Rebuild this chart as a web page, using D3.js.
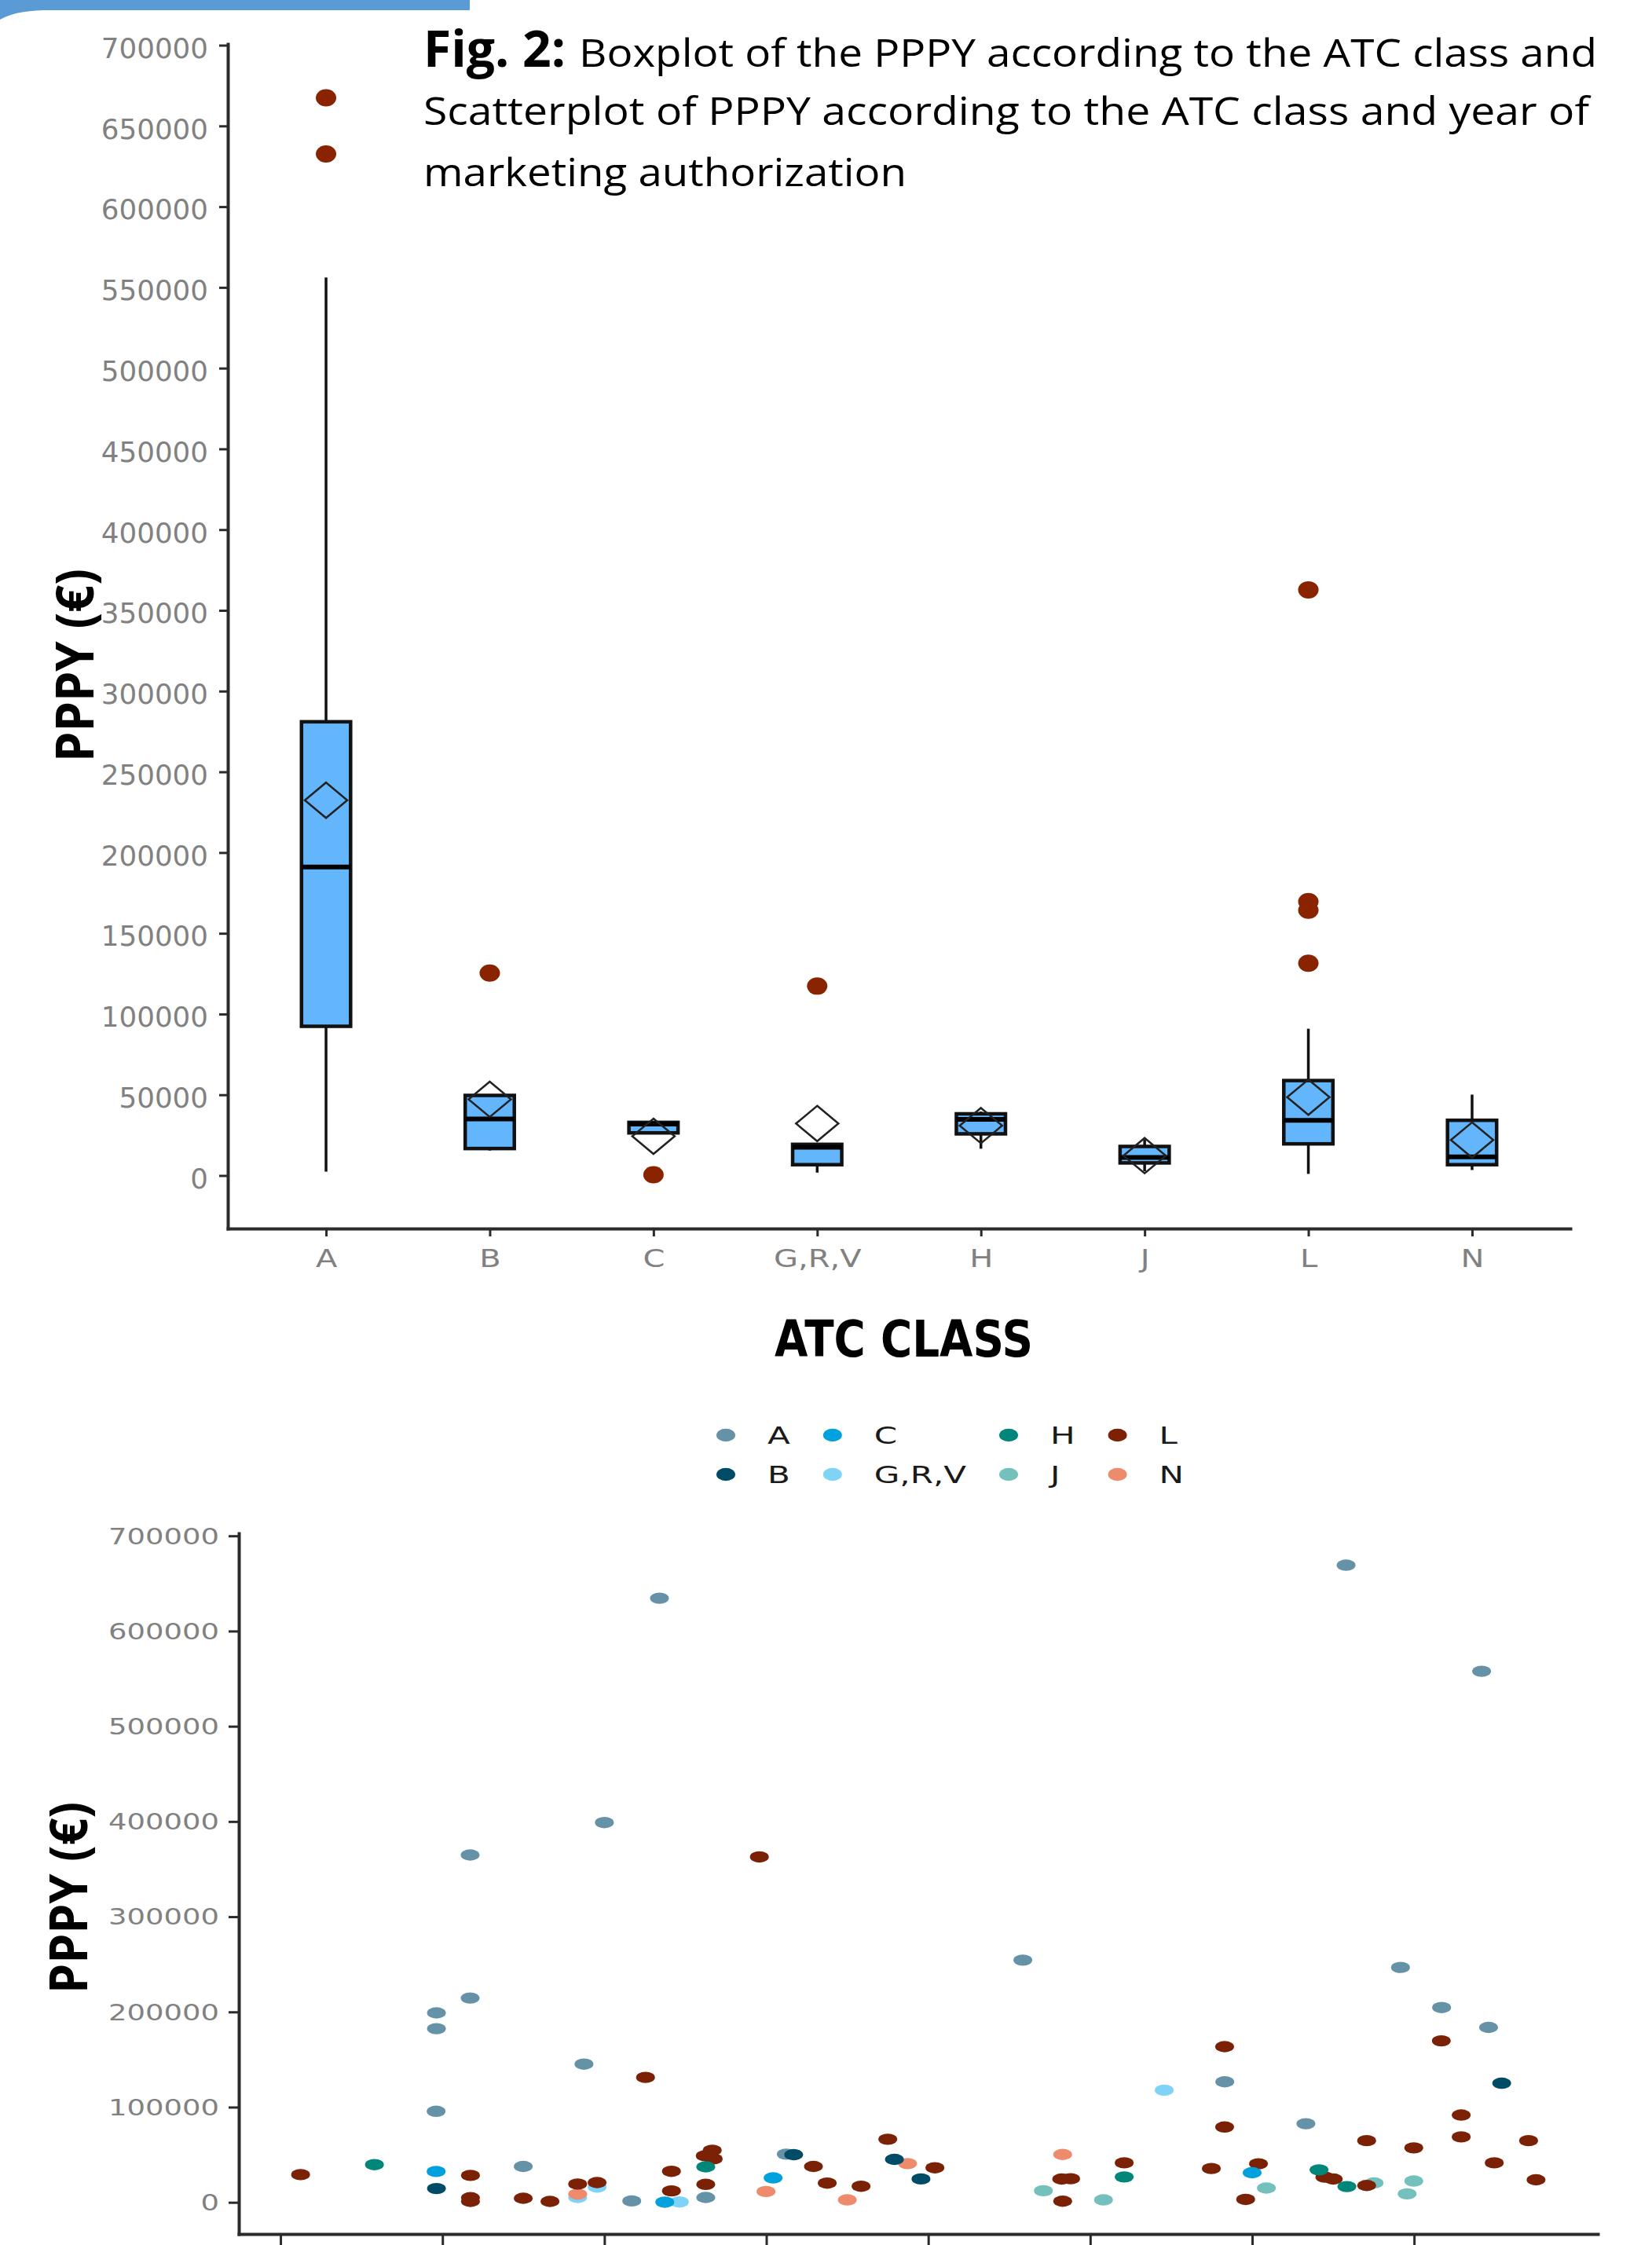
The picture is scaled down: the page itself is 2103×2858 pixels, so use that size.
<!DOCTYPE html>
<html><head><meta charset="utf-8">
<script src="https://cdn.jsdelivr.net/npm/d3@7"></script>
<style>html,body{margin:0;padding:0;background:#fff;} svg{display:block;}</style>
</head><body>
<svg id="c" width="2103" height="2858"></svg>
<script>
// ================= DATA =================
const categories = ["A", "B", "C", "G,R,V", "H", "J", "L", "N"];

// Boxplot statistics (PPPY, €)
const boxQ1          = [92400, 16700, 26400, 6700, 25800, 7800, 19600, 6700];
const boxMedian      = [191000, 35000, 31800, 17500, 34800, 11200, 34200, 11600];
const boxQ3          = [281000, 49600, 32900, 19300, 38200, 18000, 58800, 34200];
const boxWhiskerLow  = [2400, 15500, 25700, 1800, 16600, 2600, 1000, 3400];
const boxWhiskerHigh = [556100, 49600, 32900, 19300, 39600, 22400, 90900, 50100];
const boxMean        = [232400, 47200, 24300, 32200, 30900, 12300, 48500, 22000];
const outlierClass   = ["A", "A", "B", "C", "G,R,V", "L", "L", "L", "L"];
const outlierValue   = [667400, 632600, 125400, 500, 117300, 362700, 169600, 164300, 131500];

const yTicksBox     = [0, 50000, 100000, 150000, 200000, 250000, 300000, 350000, 400000, 450000, 500000, 550000, 600000, 650000, 700000];
const yTicksScatter = [0, 100000, 200000, 300000, 400000, 500000, 600000, 700000];
const xTicksScatter = [2010, 2011, 2012, 2013, 2014, 2015, 2016, 2017];

const classColors = ["#6592a6", "#004c66", "#00a1dd", "#7fd3f6", "#00877a", "#74c0bc", "#7b2106", "#ee8b6d"];

// Scatter: year of marketing authorization (decimal) and PPPY, per ATC class
const yearA = [2010.963, 2010.963, 2010.961, 2011.171, 2011.171, 2011.499, 2011.874, 2012.000, 2012.169, 2012.340, 2012.626, 2013.123, 2014.584, 2015.831, 2016.332, 2016.580, 2016.916, 2017.170, 2017.417, 2017.460];
const ppyA  = [199000, 182400, 95600, 364800, 214600, 37700, 145200, 398900, 1500, 634500, 5100, 50600, 254400, 126600, 82600, 669200, 246700, 204600, 557800, 183700];
const yearB = [2010.963, 2013.169, 2013.791, 2013.955, 2017.541];
const ppyB  = [14500, 50100, 45100, 24600, 125100];
const yearC = [2010.961, 2012.373, 2013.042, 2016.000];
const ppyC  = [32400, 200, 25700, 31100];
const yearGRV = [2011.835, 2011.955, 2012.463, 2015.457];
const ppyGRV  = [5100, 16100, 400, 117800];
const yearH = [2010.580, 2012.626, 2015.210, 2016.413, 2016.585];
const ppyH  = [39600, 37300, 26700, 34100, 16600];
const yearJ = [2014.711, 2015.082, 2016.088, 2016.753, 2016.998, 2016.957];
const ppyJ  = [12200, 2600, 15000, 20400, 22400, 8900];
const yearL = [2010.124, 2011.173, 2011.173, 2011.173, 2011.499, 2011.664, 2011.835, 2011.955, 2012.254, 2012.414, 2012.414, 2012.623, 2012.626, 2012.666, 2012.672, 2012.957, 2013.291, 2013.376, 2013.585, 2013.750, 2014.041, 2014.824, 2014.830, 2014.879, 2015.210, 2015.748, 2015.830, 2015.830, 2015.960, 2016.039, 2016.449, 2016.501, 2016.707, 2016.707, 2016.998, 2017.168, 2017.291, 2017.291, 2017.495, 2017.707, 2017.753];
const ppyL  = [29100, 28300, 4900, 1000, 4300, 1000, 19200, 20800, 131200, 32600, 12000, 48900, 18900, 54700, 45600, 362800, 37700, 20200, 16900, 66300, 36300, 24500, 1200, 24800, 41500, 35500, 163500, 79100, 3100, 40500, 26500, 24500, 64800, 17700, 57200, 169600, 91700, 68700, 41500, 64800, 23700];
const yearN = [2011.835, 2012.998, 2013.500, 2013.872, 2014.830];
const ppyN  = [8600, 11400, 2600, 40700, 50300];

// ================= BUILD TABLES =================
const scatterSets = {"A": [yearA, ppyA], "B": [yearB, ppyB], "C": [yearC, ppyC], "G,R,V": [yearGRV, ppyGRV],
                     "H": [yearH, ppyH], "J": [yearJ, ppyJ], "L": [yearL, ppyL], "N": [yearN, ppyN]};
const drawOrder = ["G,R,V", "J", "N", "A", "B", "L", "C", "H"];
const scatterPts = [];
drawOrder.forEach(k => { const [ys, vs] = scatterSets[k]; ys.forEach((y, i) => scatterPts.push({cls: k, year: y, v: vs[i]})); });
const color = d3.scaleOrdinal().domain(categories).range(classColors);

const boxes = categories.map((c, i) => ({cls: c, q1: boxQ1[i], med: boxMedian[i], q3: boxQ3[i],
  lo: boxWhiskerLow[i], hi: boxWhiskerHigh[i], mean: boxMean[i]}));
const outliers = outlierClass.map((c, i) => ({cls: c, v: outlierValue[i]}));

// ================= DRAW =================
const svg = d3.select("#c");
const AX = "#2b2b2b", TICKTXT = "#818181";
const tickFont = "'DejaVu Sans', sans-serif";

function stretchTo(sel, perCharOrFactor, mode) {
  sel.each(function () {
    const t = this.textContent;
    const w = mode === "perChar" ? t.length * perCharOrFactor : this.getComputedTextLength() * perCharOrFactor;
    d3.select(this).attr("textLength", w).attr("lengthAdjust", "spacingAndGlyphs");
  });
}

// header band
svg.append("path").attr("d", "M0,0H598V13H55Q18,14 0,25Z").attr("fill", "#5b9bd5");

// title
const titleFont = "'Open Sans', 'Liberation Sans', sans-serif";
svg.append("text").attr("x", 539).attr("y", 85).attr("font-family", titleFont).attr("font-weight", "bold")
  .attr("font-size", 64).attr("textLength", 181).attr("lengthAdjust", "spacingAndGlyphs").text("Fig. 2:");
svg.append("text").attr("x", 737).attr("y", 85).attr("font-family", titleFont).attr("font-size", 49)
  .attr("textLength", 1296).attr("lengthAdjust", "spacingAndGlyphs").text("Boxplot of the PPPY according to the ATC class and");
svg.append("text").attr("x", 539).attr("y", 159).attr("font-family", titleFont).attr("font-size", 49)
  .attr("textLength", 1484).attr("lengthAdjust", "spacingAndGlyphs").text("Scatterplot of PPPY according to the ATC class and year of");
svg.append("text").attr("x", 539).attr("y", 237).attr("font-family", titleFont).attr("font-size", 49)
  .attr("textLength", 615).attr("lengthAdjust", "spacingAndGlyphs").text("marketing authorization");

// ---------- Boxplot panel ----------
const xB = d3.scalePoint().domain(categories).range([290, 1999]).padding(0.6);
const bAll = outlierValue.concat(boxWhiskerHigh, boxWhiskerLow);
const bLo = d3.min(bAll), bHi = d3.max(bAll), bPad = (bHi - bLo) * 0.05;
const yB = d3.scaleLinear().domain([bLo - bPad, bHi + bPad]).range([1564, 56]);
const boxW = xB.step() * 0.3;

const gyB = svg.append("g").attr("transform", "translate(290,0)")
  .call(d3.axisLeft(yB).tickValues(yTicksBox).tickFormat(d3.format("d")).tickSize(11).tickPadding(14).tickSizeOuter(0));
const gxB = svg.append("g").attr("transform", "translate(0,1564)")
  .call(d3.axisBottom(xB).tickSize(10).tickPadding(16).tickSizeOuter(0));
[gyB, gxB].forEach(g => {
  g.select(".domain").attr("stroke", AX).attr("stroke-width", 4).attr("stroke-linecap", "square");
  g.selectAll(".tick line").attr("stroke", AX).attr("stroke-width", 3);
});
gyB.selectAll(".tick text").attr("font-family", tickFont).attr("font-size", 36).attr("fill", TICKTXT).attr("dy", "0.44em");
stretchTo(gyB.selectAll(".tick text"), 22.7, "perChar");
gxB.selectAll(".tick text").attr("font-family", tickFont).attr("font-size", 32).attr("fill", TICKTXT);
stretchTo(gxB.selectAll(".tick text"), 1.25);

const gBox = svg.append("g");
const bx = gBox.selectAll("g.box").data(boxes).join("g").attr("class", "box");
bx.append("line").attr("x1", d => xB(d.cls)).attr("x2", d => xB(d.cls))
  .attr("y1", d => yB(d.q3)).attr("y2", d => yB(d.hi)).attr("stroke", "#111").attr("stroke-width", 3.5);
bx.append("line").attr("x1", d => xB(d.cls)).attr("x2", d => xB(d.cls))
  .attr("y1", d => yB(d.q1)).attr("y2", d => yB(d.lo)).attr("stroke", "#111").attr("stroke-width", 3.5);
bx.append("rect").attr("x", d => xB(d.cls) - boxW / 2).attr("width", boxW)
  .attr("y", d => yB(d.q3)).attr("height", d => yB(d.q1) - yB(d.q3))
  .attr("fill", "#63b5fc").attr("stroke", "#111").attr("stroke-width", 4.5);
bx.append("line").attr("x1", d => xB(d.cls) - boxW / 2).attr("x2", d => xB(d.cls) + boxW / 2)
  .attr("y1", d => yB(d.med)).attr("y2", d => yB(d.med)).attr("stroke", "#000").attr("stroke-width", 6);
const dHW = 27, dHH = 22.5;
bx.append("path").attr("d", d => {
  const cx = xB(d.cls), cy = yB(d.mean);
  return `M${cx},${cy - dHH}L${cx + dHW},${cy}L${cx},${cy + dHH}L${cx - dHW},${cy}Z`;
}).attr("fill", "none").attr("stroke", "#222").attr("stroke-width", 2.5);
gBox.selectAll("ellipse.out").data(outliers).join("ellipse").attr("class", "out")
  .attr("cx", d => xB(d.cls)).attr("cy", d => yB(d.v)).attr("rx", 13).attr("ry", 11).attr("fill", "#8a2300");

// axis titles
const labFont = "'Open Sans', 'Liberation Sans', sans-serif";
svg.append("text").attr("transform", "translate(119,847) rotate(-90)").attr("text-anchor", "middle")
  .attr("font-family", labFont).attr("font-weight", "bold").attr("font-size", 66)
  .attr("textLength", 246).attr("lengthAdjust", "spacingAndGlyphs").text("PPPY (€)");
svg.append("text").attr("x", 986).attr("y", 1727).attr("font-family", "'DejaVu Sans', sans-serif")
  .attr("font-weight", "bold").attr("font-size", 64).attr("textLength", 329).attr("lengthAdjust", "spacingAndGlyphs")
  .text("ATC CLASS");

// ---------- Legend ----------
const legOrder = categories; // column-major, 2 rows
const leg = svg.append("g");
let colX = 924;
for (let c = 0; c < 4; c++) {
  const items = legOrder.slice(c * 2, c * 2 + 2);
  let maxW = 0;
  items.forEach((k, r) => {
    const y = 1827 + r * 50;
    leg.append("ellipse").attr("cx", colX).attr("cy", y).attr("rx", 12).attr("ry", 8.3).attr("fill", color(k));
    const t = leg.append("text").attr("x", colX + 53).attr("y", y + 11).attr("font-family", tickFont)
      .attr("font-size", 30).attr("fill", "#1a1a1a").text(k);
    const w = t.node().getComputedTextLength() * 1.4;
    t.attr("textLength", w).attr("lengthAdjust", "spacingAndGlyphs");
    maxW = Math.max(maxW, w);
  });
  colX = colX + 53 + maxW + 54;
}

// ---------- Scatter panel ----------
const xExt = d3.extent(scatterPts, d => d.year), xPad = (xExt[1] - xExt[0]) * 0.05;
const vExt = d3.extent(scatterPts, d => d.v), vPad = (vExt[1] - vExt[0]) * 0.05;
const xS = d3.scaleLinear().domain([xExt[0] - xPad, xExt[1] + xPad]).range([304, 2034]);
const yS = d3.scaleLinear().domain([vExt[0] - vPad, vExt[1] + vPad]).range([2844, 1952]);

const gyS = svg.append("g").attr("transform", "translate(304,0)")
  .call(d3.axisLeft(yS).tickValues(yTicksScatter).tickFormat(d3.format("d")).tickSize(13).tickPadding(12).tickSizeOuter(0));
const gxS = svg.append("g").attr("transform", "translate(0,2844)")
  .call(d3.axisBottom(xS).tickValues(xTicksScatter).tickFormat(() => "").tickSize(14).tickSizeOuter(0));
[gyS, gxS].forEach(g => {
  g.select(".domain").attr("stroke", AX).attr("stroke-width", 4).attr("stroke-linecap", "square");
  g.selectAll(".tick line").attr("stroke", AX).attr("stroke-width", 3);
});
gyS.selectAll(".tick text").attr("font-family", tickFont).attr("font-size", 29).attr("fill", TICKTXT).attr("dy", "0.34em");
stretchTo(gyS.selectAll(".tick text"), 23.5, "perChar");

svg.append("g").selectAll("ellipse").data(scatterPts).join("ellipse")
  .attr("cx", d => xS(d.year)).attr("cy", d => yS(d.v)).attr("rx", 12).attr("ry", 7.2)
  .attr("fill", d => color(d.cls));

svg.append("text").attr("transform", "translate(111,2416) rotate(-90)").attr("text-anchor", "middle")
  .attr("font-family", labFont).attr("font-weight", "bold").attr("font-size", 66)
  .attr("textLength", 244).attr("lengthAdjust", "spacingAndGlyphs").text("PPPY (€)");
</script>
</body></html>
